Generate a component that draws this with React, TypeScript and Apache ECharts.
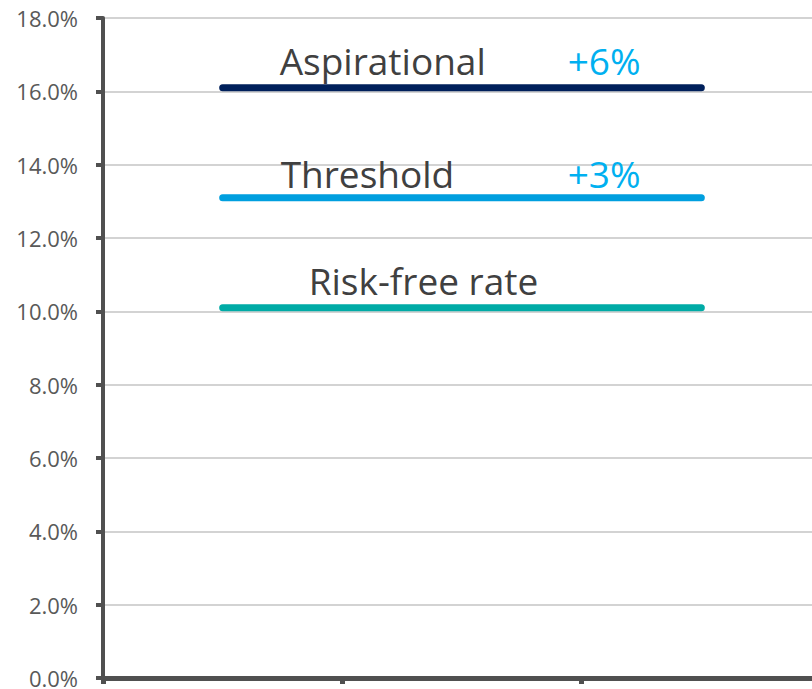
import React, { useEffect, useRef } from "react";
import * as echarts from "echarts";

// Three periods on the horizontal axis (labels hidden)
const categories = ["P1", "P2", "P3"];

// Hurdle rates, in percent
const seriesNames = ["Aspirational", "Threshold", "Risk-free rate"];
const seriesValues = [16.1, 13.1, 10.1];
const premiumLabels = ["+6%", "+3%", ""];

// Value axis range, in percent
const yMin = 0;
const yMax = 18;
const yInterval = 2;

const lineColors = ["#00205b", "#009fdf", "#00aba6"];
const nameOffsetX = [57, 58, 86];
const nameOffsetY = [27, 24, 27];
const premiumOffsetX = 345;

export default function App() {
  const ref = useRef<HTMLDivElement>(null);

  useEffect(() => {
    if (!ref.current) return;
    const chart = echarts.init(ref.current, undefined, { renderer: "svg" });
    const axisColor = "#505050";
    chart.setOption({
      animation: false,
      backgroundColor: "#ffffff",
      grid: { left: 103, right: 0, top: 18, bottom: 10, containLabel: false },
      xAxis: {
        type: "category",
        data: categories,
        boundaryGap: true,
        axisLine: { show: true, lineStyle: { color: axisColor, width: 5 } },
        axisTick: { show: true, length: 6, lineStyle: { color: axisColor, width: 5 } },
        axisLabel: { show: false },
        splitLine: { show: false },
      },
      yAxis: {
        type: "value",
        min: yMin,
        max: yMax,
        interval: yInterval,
        axisLine: { show: true, lineStyle: { color: axisColor, width: 4 } },
        axisTick: { show: true, length: 7, lineStyle: { color: axisColor, width: 4 } },
        axisLabel: {
          formatter: (v: number) => v.toFixed(1) + "%",
          color: "#595959",
          fontSize: 22,
          fontFamily: "Open Sans",
          margin: 25,
        },
        splitLine: { show: true, lineStyle: { color: "#c4c4c4", width: 1.5 } },
      },
      series: seriesNames.map((name, i) => ({
        name,
        type: "line",
        data: categories.map(() => seriesValues[i]),
        symbol: "none",
        lineStyle: { color: lineColors[i], width: 7, cap: "round" },
        z: 3,
      })),
    });

    const graphics: any[] = [];
    seriesValues.forEach((v, i) => {
      const [x0, y] = chart.convertToPixel({ gridIndex: 0 }, [0, v]) as number[];
      graphics.push({
        type: "text",
        x: x0 + nameOffsetX[i],
        y: y - nameOffsetY[i],
        style: {
          text: seriesNames[i],
          fill: "#404040",
          fontSize: 37,
          fontFamily: "Open Sans",
          align: "left",
          verticalAlign: "middle",
        },
        z: 10,
      });
      if (premiumLabels[i]) {
        graphics.push({
          type: "text",
          x: x0 + premiumOffsetX,
          y: y - nameOffsetY[i],
          style: {
            text: premiumLabels[i],
            fill: "#00b0f0",
            fontSize: 37,
            fontFamily: "Open Sans",
            align: "left",
            verticalAlign: "middle",
          },
          z: 10,
        });
      }
    });
    chart.setOption({ graphic: graphics });

    return () => chart.dispose();
  }, []);

  return (
    <div style={{ position: "fixed", left: 0, top: 0, width: 812, height: 689, overflow: "hidden", background: "#fff" }}>
      <div ref={ref} style={{ width: 821, height: 689 }} />
    </div>
  );
}
